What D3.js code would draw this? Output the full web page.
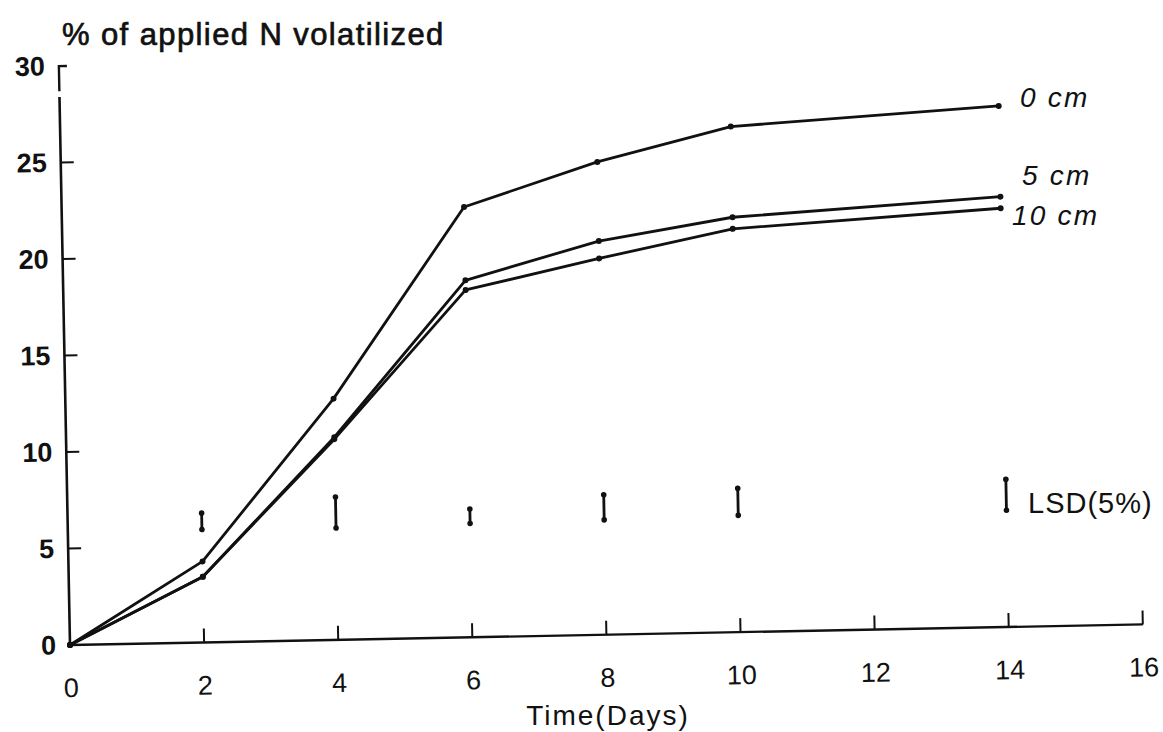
<!DOCTYPE html>
<html>
<head>
<meta charset="utf-8">
<script src="https://cdn.jsdelivr.net/npm/d3@7"></script>
<style>
  html, body { margin: 0; padding: 0; background: #ffffff; }
  svg { display: block; }
  text { font-family: "Liberation Sans", Arial, sans-serif; fill: #111; }
</style>
</head>
<body>
<svg id="chart" width="1163" height="732"></svg>
<script>
// ---- data ----
const days = [0, 2, 4, 6, 8, 10, 14];
const depth0cm = [0, 4.2, 12.5, 22.3, 24.5, 26.2, 27.0];
const depth5cm = [0, 3.4, 10.5, 18.5, 20.4, 21.5, 22.3];
const depth10cm = [0, 3.4, 10.4, 18.0, 19.5, 20.9, 21.7];
const seriesNames = ["0 cm", "5 cm", "10 cm"];

const lsdDays = [2, 4, 6, 8, 10];
const lsdLow = [5.85, 5.8, 5.9, 5.95, 6.05];
const lsdHigh = [6.7, 7.4, 6.65, 7.25, 7.45];
const lsdKeyDay = [14];
const lsdKeyLow = [6.05];
const lsdKeyHigh = [7.65];

const xTicks = [0, 2, 4, 6, 8, 10, 12, 14, 16];
const yTicks = [0, 5, 10, 15, 20, 25, 30];

const titleText = "% of applied N volatilized";
const xTitle = "Time(Days)";
const lsdLabel = "LSD(5%)";

// ---- layout ----
const svg = d3.select("#chart");
const origin = [70, 645];
const tilt = -1.1; // scan is slightly rotated
const x = d3.scaleLinear().domain([0, 16]).range([0, 1073]);
const y = d3.scaleLinear().domain([0, 30]).range([0, -579]);

const g = svg.append("g")
  .attr("transform", `translate(${origin[0]},${origin[1]}) rotate(${tilt})`);

// x axis
const xAxis = d3.axisBottom(x).tickValues(xTicks).tickSize(0).tickPadding(33)
  .tickFormat(d3.format("d"));
const gx = g.append("g").call(xAxis);
gx.select(".domain").remove();
gx.selectAll("text").attr("font-size", 27).attr("fill", "#111")
  .style("font-family", "Liberation Sans, Arial, sans-serif");
g.append("line").attr("x1", x(0)).attr("x2", x(16)).attr("y1", 0).attr("y2", 0)
  .attr("stroke", "#111").attr("stroke-width", 2.4);
g.selectAll(".xt").data(xTicks.filter(d => d > 0)).enter().append("line")
  .attr("x1", d => x(d)).attr("x2", d => x(d)).attr("y1", 0).attr("y2", -14)
  .attr("stroke", "#111").attr("stroke-width", 2);

// y axis
const yAxis = d3.axisLeft(y).tickValues(yTicks).tickSize(0).tickPadding(14)
  .tickFormat(d3.format("d"));
const gy = g.append("g").call(yAxis);
gy.select(".domain").remove();
gy.selectAll("text").attr("font-size", 27).attr("font-weight", "bold").attr("fill", "#111")
  .style("font-family", "Liberation Sans, Arial, sans-serif");
g.append("line").attr("x1", 0).attr("x2", 0).attr("y1", y(0)).attr("y2", y(28.4))
  .attr("stroke", "#111").attr("stroke-width", 2.6);
g.append("path")
  .attr("d", `M0,${y(28.7)} L0,${y(30)} L8,${y(30)}`)
  .attr("fill", "none").attr("stroke", "#111").attr("stroke-width", 2.4);
g.selectAll(".yt").data(yTicks.filter(d => d > 0 && d < 30)).enter().append("line")
  .attr("x1", 0).attr("x2", 13).attr("y1", d => y(d)).attr("y2", d => y(d))
  .attr("stroke", "#111").attr("stroke-width", 2);

// series
const series = [depth0cm, depth5cm, depth10cm];
const line = d3.line().x((d, i) => x(days[i])).y(d => y(d));
series.forEach((vals, si) => {
  g.append("path").datum(vals).attr("d", line)
    .attr("fill", "none").attr("stroke", "#111").attr("stroke-width", 2.8)
    .attr("stroke-linejoin", "round");
  g.selectAll(".pt" + si).data(vals).enter().append("circle")
    .attr("cx", (d, i) => x(days[i])).attr("cy", d => y(d)).attr("r", 3)
    .attr("fill", "#111");
});

// LSD bars
function lsdBar(dd, lo, hi) {
  g.append("line").attr("x1", x(dd)).attr("x2", x(dd)).attr("y1", y(lo)).attr("y2", y(hi))
    .attr("stroke", "#111").attr("stroke-width", 2.8);
  [lo, hi].forEach(v => g.append("circle").attr("cx", x(dd)).attr("cy", y(v)).attr("r", 2.8).attr("fill", "#111"));
}
lsdDays.forEach((dd, i) => lsdBar(dd, lsdLow[i], lsdHigh[i]));
lsdKeyDay.forEach((dd, i) => lsdBar(dd, lsdKeyLow[i], lsdKeyHigh[i]));

// texts (placed in page coordinates)
svg.append("text").attr("x", 62).attr("y", 45).attr("font-size", 31)
  .attr("letter-spacing", 1.4)
  .attr("stroke", "#111").attr("stroke-width", 0.7).text(titleText);
svg.append("text").attr("x", 608).attr("y", 725).attr("text-anchor", "middle")
  .attr("font-size", 28).attr("letter-spacing", 2).text(xTitle);
svg.append("text").attr("x", 1028).attr("y", 513).attr("font-size", 29)
  .attr("letter-spacing", 1).text(lsdLabel);

const labelPos = [[1020, 107], [1022, 185], [1012, 225]];
seriesNames.forEach((s, i) => {
  svg.append("text").attr("x", labelPos[i][0]).attr("y", labelPos[i][1])
    .attr("font-size", 28).attr("font-style", "italic").attr("letter-spacing", 2.2).text(s);
});
</script>
</body>
</html>
